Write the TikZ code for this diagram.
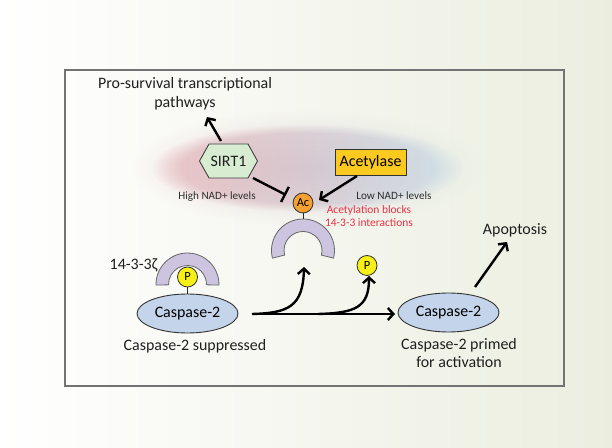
\documentclass[tikz,border=0pt]{standalone}
\usepackage{fontspec}
\setmainfont{Carlito}
\usetikzlibrary{arrows.meta,fadings,calc,shapes.geometric}
\definecolor{bgR}{RGB}{235,238,223}
\definecolor{caspfill}{RGB}{196,212,234}
\definecolor{arcfill}{RGB}{205,197,224}
\definecolor{sirtfill}{RGB}{216,236,210}
\definecolor{acetfill}{RGB}{250,202,32}
\definecolor{acfill}{RGB}{245,160,50}
\definecolor{pfill}{RGB}{246,240,24}
\definecolor{redtxt}{RGB}{232,50,70}
\definecolor{blobpink}{RGB}{226,160,166}
\definecolor{blobmid}{RGB}{236,222,228}
\definecolor{blobblue}{RGB}{184,212,232}
\tikzfading[name=blobfade, inner color=transparent!0, outer color=transparent!100]
\tikzset{
  lbl/.style={font=\fontsize{16}{19}\selectfont, align=center, text=black!88, inner sep=0pt},
  smalllbl/.style={font=\fontsize{11.2}{13}\selectfont, text=black!82, inner sep=0pt},
  redlbl/.style={font=\fontsize{11.5}{12.8}\selectfont, text=redtxt, align=center, inner sep=0pt},
  casp/.style={ellipse, draw=black!80, line width=0.9bp, fill=caspfill, minimum width=101bp,
    minimum height=39bp, inner sep=0pt, font=\fontsize{16}{19}\selectfont},
  ball/.style={circle, draw=black!80, line width=0.8bp, minimum size=20bp, inner sep=0pt,
    font=\fontsize{12.5}{14}\selectfont},
  conn/.style={line width=2.4bp, -{Straight Barb[length=5.5bp,width=12bp]}},
  inhib/.style={line width=2.4bp, -{Bar[width=17bp]}},
  stem/.style={line width=1bp, black!85},
  band/.style={fill=arcfill, draw=black!60, line width=0.8bp},
  blob/.style={left color=blobpink, middle color=blobmid, right color=blobblue},
}
\begin{document}
\begin{tikzpicture}[x=1bp,y=-1bp]
\useasboundingbox (0,0) rectangle (612,448);
% background
\shade[left color=white, right color=bgR] (0,0) rectangle (612,448);
% frame
\draw[black!55, line width=1.5bp] (65,70) rectangle (564,386);
% soft coloured blob
\shade[blob, opacity=0.55, path fading=circle with fuzzy edge 20 percent]
  (307,168) ellipse[x radius=156, y radius=44];
\shade[blob, opacity=0.5, path fading=blobfade]
  (307,168) ellipse[x radius=176, y radius=58];

% SIRT1 hexagon
\node[lbl] (sirt) at (228.5,161) {};
\draw[fill=sirtfill, draw=black!75, line width=0.9bp]
  ($(sirt.center)+(-29,0)$) -- ($(sirt.center)+(-19.5,-17)$) -- ($(sirt.center)+(19.5,-17)$)
  -- ($(sirt.center)+(29,0)$) -- ($(sirt.center)+(19.5,17)$) -- ($(sirt.center)+(-19.5,17)$) -- cycle;
\node[lbl] (sirtlabel) at (sirt.center) {SIRT1};

% Acetylase
\node[draw=black!80, line width=0.9bp, fill=acetfill, minimum width=71bp, minimum height=26bp,
  inner sep=0pt, font=\fontsize{16}{19}\selectfont] (acet) at (370.5,162) {Acetylase};

% upper 14-3-3 arc
\coordinate (arcU) at (303,250.5);
\path[band] ($(arcU)+(166:31.5)$) arc[start angle=166, end angle=374, radius=31.5]
  -- ($(arcU)+(374:19)$) arc[start angle=374, end angle=166, radius=19] -- cycle;
\coordinate (arcUtop) at (303,219);
\node[ball, fill=acfill] (ac) at (303,203) {Ac};
\draw[stem] (ac.south) -- (arcUtop);

% lower-left 14-3-3 zeta with P and caspase
\coordinate (arcL) at (187.5,284.5);
\path[band] ($(arcL)+(179:31.5)$) arc[start angle=179, end angle=361, radius=31.5]
  -- ($(arcL)+(361:19)$) arc[start angle=361, end angle=179, radius=19] -- cycle;
\node[casp] (casL) at (187.5,313.5) {Caspase-2};
\node[ball, fill=pfill] (pL) at (187.5,277) {P};
\draw[stem] (pL.south) -- (casL.north);

\node[casp] (casR) at (448.5,312.5) {Caspase-2};
\node[ball, fill=pfill] (pR) at (367,265.5) {P};

% texts
\node[lbl] (pro) at (185,94) {Pro-survival transcriptional\\pathways};
\node[lbl, anchor=east] (zeta) at (157.5,265.5) {14-3-3ζ};
\node[lbl] (sup) at (195,346) {Caspase-2 suppressed};
\node[lbl] (prim) at (459,353) {Caspase-2 primed\\for activation};
\node[lbl] (apo) at (515,230) {Apoptosis};
\node[smalllbl] (hi) at (217,197) {High NAD+ levels};
\node[smalllbl] (lo) at (394,196) {Low NAD+ levels};
\node[redlbl] (red) at (369,216) {Acetylation blocks\\14-3-3 interactions};

% connectors
\coordinate (s1) at (221,141);
\coordinate (s2) at (207,117);
\draw[conn] (s1) -- (s2);
\coordinate (i1) at (253,178);
\coordinate (i2) at (286,195);
\draw[inhib] (i1) -- (i2);
\coordinate (a1) at (357,176);
\coordinate (a2) at (319,200);
\draw[conn] (a1) -- (a2);
\coordinate (m1) at (252,314);
\coordinate (m2) at (395,314);
\draw[conn] (m1) -- (m2);
\coordinate (b1) at (304,267);
\draw[conn] (m1) .. controls (288,313) and (303,307) .. (b1);
\coordinate (b2s) at (318,314);
\coordinate (b2) at (369,276);
\draw[conn] (b2s) .. controls (356,313) and (369,307) .. (b2);
\coordinate (ap1) at (475,287);
\coordinate (ap2) at (507,242);
\draw[conn] (ap1) -- (ap2);
\end{tikzpicture}
\end{document}
